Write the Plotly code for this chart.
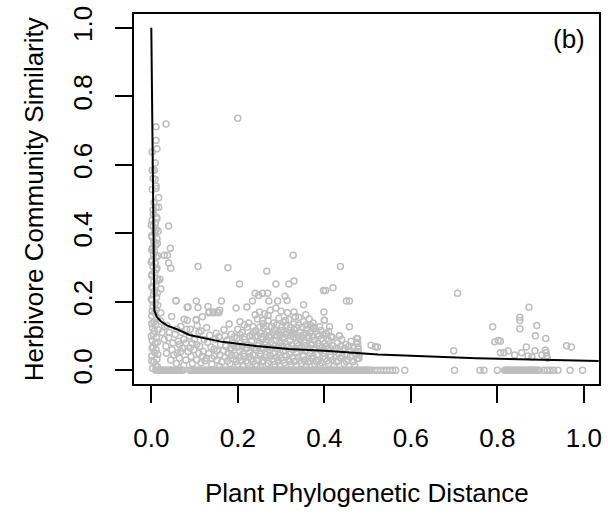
import plotly.graph_objects as go

# ---- data ----
tick_vals = [0.0, 0.2, 0.4, 0.6, 0.8, 1.0]
tick_text = ["0.0", "0.2", "0.4", "0.6", "0.8", "1.0"]

# points lying on similarity = 0
zero_row_x = [0.010,0.017,0.024,0.031,0.038,0.045,0.052,0.059,0.066,0.073,0.089,0.096,0.103,0.110,
              0.117,0.124,0.131,0.138,0.145,0.152,0.159,0.166,0.173,0.180,0.187,0.194,0.201,0.208,
              0.215,0.222,0.229,0.236,0.243,0.250,0.257,0.264,0.271,0.278,0.285,0.292,0.299,0.306,
              0.313,0.320,0.327,0.334,0.341,0.348,0.355,0.362,0.369,0.376,0.383,0.390,0.397,0.404,
              0.411,0.418,0.425,0.432,0.439,0.446,0.453,0.460,0.467,0.474,0.481,0.488,0.495,0.502,
              0.509,0.516,0.523,0.530,0.537,0.544,0.551,0.558,0.565,0.586,0.701,0.760,0.769,0.800,
              0.817,0.823,0.829,0.835,0.841,0.847,0.853,0.859,0.865,0.871,0.877,0.883,0.889,0.897,
              0.908,0.915,0.922,0.930,0.940,0.968,0.997]
zero_row_x2 = [0.0135,0.0205,0.0275,0.0345,0.0415,0.0485,0.0555,0.0625,0.0695,0.0925,0.0995,0.1065,
               0.1135,0.1205,0.1275,0.1345,0.1415,0.1485,0.1555,0.1625,0.1695,0.1765,0.1835,0.1905,
               0.1975,0.2045,0.2115,0.2185,0.2255,0.2325,0.2395,0.2465,0.2535,0.2605,0.2675,0.2745,
               0.2815,0.2885,0.2955,0.3025,0.3095,0.3165,0.3235,0.3305,0.3375,0.3445,0.3515,0.3585,
               0.3655,0.3725,0.3795,0.3865,0.3935,0.4005,0.4075,0.4145,0.4215,0.4285,0.4355,0.4425,
               0.4495,0.4565,0.4635,0.4705,0.4775,0.4845,0.4915,0.4985,0.5055,
               0.820,0.826,0.832,0.838,0.844,0.850,0.856,0.862,0.868,0.874,0.880,0.886,0.893]

# vertical column near distance = 0
column_x = [0.003,0.010,0.006,0.013,0.001,0.008,0.011,0.004,0.009,0.002,0.012,0.005,0.007,
            0.003,0.010,0.006,0.013,0.001,0.008,0.011,0.004,0.009,0.002,0.012,0.005,0.007,
            0.003,0.010,0.006,0.013,0.001,0.008,0.011,0.004,0.009,0.002,0.012,0.005,0.007,
            0.003,0.010,0.006,0.013,0.001,0.008,0.011,0.004,0.009,0.002,0.012,0.005,
            0.004,0.011,0.006,0.017,0.002,0.011,0.011,0.009,0.004,0.002,0.007,0.009,0.002,0.013,0.011,0.011,0.034,
            0.014,0.001,0.015,0.002,0.014,0.000,0.016,0.001,0.013,0.002,0.015,0.000,0.014,0.001,0.016,
            0.002,0.013,0.000,0.015,0.001,0.014,0.002,0.016,0.000,0.013,0.020,0.022,0.017]
column_y = [0.006,0.015,0.024,0.033,0.042,0.051,0.060,0.069,0.078,0.087,0.096,0.105,0.114,
            0.123,0.132,0.141,0.150,0.159,0.168,0.177,0.186,0.195,0.204,0.213,0.222,0.231,
            0.240,0.249,0.258,0.267,0.276,0.285,0.294,0.303,0.312,0.321,0.330,0.339,0.348,
            0.357,0.366,0.375,0.384,0.393,0.402,0.411,0.420,0.429,0.438,0.447,0.456,
            0.468,0.476,0.490,0.504,0.528,0.531,0.538,0.557,0.560,0.584,0.584,0.605,0.637,0.647,0.671,0.711,0.719,
            0.010,0.028,0.046,0.064,0.082,0.100,0.118,0.136,0.154,0.172,0.190,0.208,0.226,0.244,0.262,
            0.280,0.298,0.316,0.334,0.352,0.370,0.388,0.406,0.424,0.442,0.266,0.237,0.476]

# cloud just right of the column
near_pts = [(0.022,0.168),(0.057,0.204),(0.047,0.157),(0.083,0.184),(0.076,0.149),(0.083,0.146),
            (0.104,0.146),(0.068,0.128),(0.031,0.128),(0.025,0.110),(0.040,0.095),(0.055,0.105),
            (0.062,0.085),(0.075,0.090),(0.088,0.100),(0.095,0.078),(0.034,0.070),(0.048,0.060),
            (0.060,0.050),(0.072,0.065),(0.085,0.055),(0.098,0.060),(0.065,0.035),(0.080,0.030),
            (0.092,0.040),(0.105,0.030),(0.110,0.050),(0.100,0.090),(0.070,0.110),(0.030,0.090),
            (0.050,0.080),(0.090,0.120),(0.110,0.110),(0.035,0.050),(0.045,0.030),(0.058,0.020),
            (0.075,0.015),(0.095,0.020),(0.022,0.143),(0.036,0.131),(0.059,0.120),
            (0.112,0.070),(0.122,0.090),(0.135,0.102),(0.118,0.040),(0.140,0.035),(0.105,0.075),
            (0.065,0.075),(0.080,0.080),(0.090,0.065),(0.052,0.045),(0.068,0.055),(0.042,0.110),
            (0.082,0.120),(0.115,0.115),(0.128,0.125)]

# main cloud
cloud_pts = [
    (0.115,0.022),(0.128,0.035),(0.140,0.018),(0.152,0.030),(0.163,0.024),(0.171,0.038),(0.182,0.020),
    (0.190,0.032),(0.200,0.016),(0.208,0.028),(0.215,0.040),(0.223,0.022),(0.231,0.034),(0.240,0.018),
    (0.248,0.030),(0.256,0.025),(0.262,0.038),(0.270,0.020),(0.279,0.032),(0.286,0.017),(0.293,0.028),
    (0.300,0.036),(0.308,0.022),(0.316,0.030),(0.323,0.018),(0.331,0.026),(0.339,0.038),(0.347,0.020),
    (0.355,0.030),(0.362,0.024),(0.370,0.035),(0.378,0.019),(0.386,0.028),(0.394,0.022),(0.402,0.033),
    (0.410,0.020),(0.419,0.030),(0.428,0.024),(0.437,0.036),(0.446,0.020),(0.455,0.030),(0.466,0.025),
    (0.476,0.034),
    (0.120,0.055),(0.133,0.048),(0.145,0.062),(0.158,0.045),(0.167,0.058),(0.178,0.050),(0.186,0.066),
    (0.195,0.044),(0.204,0.056),(0.212,0.048),(0.219,0.064),(0.227,0.052),(0.235,0.045),(0.243,0.060),
    (0.251,0.050),(0.259,0.066),(0.266,0.046),(0.274,0.058),(0.282,0.050),(0.290,0.063),(0.297,0.044),
    (0.305,0.055),(0.312,0.068),(0.320,0.047),(0.328,0.060),(0.335,0.050),(0.343,0.065),(0.351,0.045),
    (0.359,0.057),(0.367,0.049),(0.375,0.063),(0.383,0.046),(0.391,0.058),(0.399,0.050),(0.407,0.062),
    (0.415,0.045),(0.424,0.055),(0.433,0.048),(0.442,0.060),(0.452,0.046),(0.461,0.056),(0.472,0.050),
    (0.478,0.062),
    (0.130,0.082),(0.148,0.090),(0.160,0.075),(0.175,0.088),(0.188,0.078),(0.198,0.094),(0.207,0.080),
    (0.216,0.090),(0.224,0.074),(0.232,0.086),(0.240,0.097),(0.249,0.078),(0.257,0.090),(0.265,0.082),
    (0.273,0.096),(0.281,0.075),(0.289,0.088),(0.296,0.080),(0.304,0.094),(0.313,0.076),(0.321,0.087),
    (0.329,0.097),(0.337,0.079),(0.345,0.090),(0.353,0.083),(0.361,0.095),(0.369,0.076),(0.377,0.088),
    (0.385,0.080),(0.393,0.092),(0.401,0.078),(0.410,0.087),(0.418,0.096),(0.430,0.080),(0.440,0.090),
    (0.450,0.075),(0.462,0.085),(0.475,0.078),
    (0.150,0.108),(0.168,0.118),(0.185,0.105),(0.200,0.120),(0.210,0.110),(0.222,0.126),(0.233,0.104),
    (0.242,0.116),(0.252,0.108),(0.260,0.124),(0.268,0.112),(0.277,0.102),(0.285,0.120),(0.294,0.110),
    (0.302,0.127),(0.310,0.105),(0.318,0.117),(0.327,0.108),(0.336,0.124),(0.344,0.112),(0.352,0.103),
    (0.360,0.119),(0.368,0.110),(0.376,0.126),(0.384,0.106),(0.392,0.116),(0.404,0.107),(0.416,0.098),
    (0.435,0.101),(0.475,0.093),
    (0.180,0.135),(0.205,0.142),(0.225,0.138),(0.245,0.150),(0.258,0.136),(0.270,0.145),(0.283,0.138),
    (0.295,0.152),(0.306,0.140),(0.318,0.148),(0.330,0.135),(0.341,0.155),(0.352,0.142),(0.365,0.150),
    (0.374,0.138),(0.389,0.127),(0.400,0.146),(0.412,0.127),(0.368,0.131),(0.374,0.122),(0.404,0.107),
    (0.410,0.114),(0.416,0.098),(0.407,0.093),(0.458,0.127),(0.435,0.101),(0.475,0.081),
    (0.131,0.186),(0.134,0.170),(0.143,0.170),(0.152,0.170),(0.158,0.175),(0.196,0.182),(0.221,0.185),
    (0.288,0.182),(0.330,0.170),(0.333,0.156),(0.357,0.162),(0.399,0.170),(0.400,0.146),(0.104,0.148),
    (0.106,0.131),(0.118,0.156),(0.085,0.185),(0.108,0.183),(0.133,0.168),(0.144,0.168),(0.156,0.168),
    (0.250,0.170),(0.262,0.165),(0.275,0.175),(0.300,0.172),(0.315,0.168),(0.270,0.160),(0.240,0.162),
    (0.477,0.093),(0.477,0.080),(0.478,0.068),(0.478,0.055),(0.480,0.045),(0.480,0.035),(0.508,0.073),
    (0.518,0.069),(0.523,0.068)]

# denser core of the main cloud
core_pts = [
    (0.124,0.028),(0.146,0.041),(0.158,0.012),(0.176,0.027),(0.186,0.044),(0.196,0.026),(0.204,0.038),
    (0.212,0.014),(0.219,0.027),(0.227,0.040),(0.235,0.026),(0.244,0.012),(0.252,0.041),(0.259,0.028),
    (0.266,0.013),(0.275,0.043),(0.283,0.026),(0.290,0.038),(0.297,0.013),(0.304,0.029),(0.312,0.042),
    (0.320,0.026),(0.327,0.038),(0.335,0.013),(0.343,0.028),(0.351,0.040),(0.358,0.014),(0.366,0.027),
    (0.374,0.042),(0.382,0.025),(0.390,0.014),(0.398,0.040),(0.406,0.027),(0.414,0.038),(0.423,0.014),
    (0.432,0.028),(0.441,0.041),(0.451,0.026),(0.460,0.040),(0.470,0.015),
    (0.138,0.068),(0.152,0.056),(0.172,0.070),(0.182,0.062),(0.191,0.072),(0.200,0.067),(0.210,0.072),
    (0.222,0.064),(0.230,0.071),(0.238,0.066),(0.246,0.072),(0.254,0.064),(0.262,0.075),(0.270,0.068),
    (0.278,0.066),(0.286,0.072),(0.294,0.067),(0.302,0.072),(0.310,0.058),(0.317,0.068),(0.325,0.074),
    (0.333,0.064),(0.340,0.072),(0.348,0.066),(0.356,0.072),(0.364,0.066),(0.372,0.074),(0.380,0.064),
    (0.388,0.070),(0.396,0.068),(0.404,0.070),(0.412,0.066),(0.420,0.072),(0.428,0.064),(0.438,0.070),
    (0.447,0.064),(0.457,0.070),(0.467,0.066),
    (0.156,0.098),(0.170,0.100),(0.192,0.098),(0.205,0.104),(0.215,0.098),(0.228,0.100),(0.236,0.110),
    (0.246,0.100),(0.255,0.098),(0.263,0.104),(0.272,0.100),(0.281,0.110),(0.290,0.100),(0.298,0.104),
    (0.306,0.098),(0.314,0.108),(0.323,0.100),(0.331,0.106),(0.340,0.100),(0.348,0.098),(0.356,0.108),
    (0.364,0.100),(0.372,0.098),(0.380,0.115),(0.388,0.100),(0.396,0.104),
    (0.215,0.132),(0.235,0.128),(0.250,0.126),(0.265,0.130),(0.278,0.128),(0.290,0.132),(0.300,0.116),
    (0.312,0.130),(0.322,0.126),(0.340,0.132),(0.348,0.126),(0.358,0.132),(0.330,0.118),(0.258,0.145),
    (0.310,0.145)]

# isolated points above the cloud
upper_pts = [(0.200,0.736),(0.108,0.303),(0.177,0.299),(0.267,0.289),(0.328,0.336),(0.437,0.303),
             (0.204,0.252),(0.288,0.252),(0.318,0.252),(0.330,0.261),(0.420,0.241),(0.398,0.233),
             (0.403,0.233),(0.240,0.225),(0.248,0.218),(0.257,0.225),(0.269,0.225),(0.309,0.216),
             (0.314,0.204),(0.057,0.202),(0.104,0.202),(0.162,0.202),(0.234,0.202),(0.272,0.202),
             (0.292,0.202),(0.451,0.202),(0.458,0.202),(0.352,0.191),(0.040,0.421),(0.044,0.356),
             (0.030,0.336),(0.037,0.336),(0.040,0.313),(0.045,0.298)]

# distant pairs (distance 0.7 - 1.0)
far_pts = [(0.708,0.225),(0.873,0.184),(0.852,0.155),(0.852,0.145),(0.852,0.121),(0.789,0.127),
           (0.891,0.131),(0.888,0.101),(0.912,0.093),(0.794,0.083),(0.802,0.087),(0.807,0.085),
           (0.867,0.068),(0.960,0.072),(0.971,0.068),(0.699,0.057),(0.807,0.051),(0.815,0.051),
           (0.825,0.056),(0.840,0.045),(0.856,0.051),(0.871,0.042),(0.880,0.039),(0.887,0.057),
           (0.903,0.045),(0.911,0.059),(0.913,0.051),(0.914,0.042),(0.916,0.035)]

# fitted curve
curve_x = [0.0, 0.002, 0.004, 0.006, 0.007, 0.013, 0.022, 0.036, 0.059, 0.088, 0.112, 0.164,
           0.242, 0.318, 0.410, 0.524, 0.752, 1.034]
curve_y = [1.0, 0.75, 0.50, 0.30, 0.175, 0.155, 0.143, 0.131, 0.120, 0.103, 0.097, 0.083,
           0.071, 0.062, 0.056, 0.046, 0.035, 0.027]

# ---- assemble ----
pts_x = list(zero_row_x) + list(zero_row_x2) + list(column_x)
pts_y = [0.0] * (len(zero_row_x) + len(zero_row_x2)) + list(column_y)
for grp in (near_pts, cloud_pts, core_pts, upper_pts, far_pts):
    pts_x += [p[0] for p in grp]
    pts_y += [p[1] for p in grp]

FONT = "Liberation Sans, Arial, Helvetica, sans-serif"

fig = go.Figure()
fig.add_trace(go.Scatter(
    x=pts_x, y=pts_y, mode="markers",
    marker=dict(symbol="circle-open", size=6, color="#bebebe", line=dict(width=1.5, color="#bebebe")),
    hoverinfo="skip", showlegend=False))
fig.add_trace(go.Scatter(
    x=curve_x, y=curve_y, mode="lines",
    line=dict(color="black", width=2), showlegend=False, hoverinfo="skip"))

axis_common = dict(
    showgrid=False, zeroline=False, showline=True, mirror=True,
    linecolor="black", linewidth=1.5,
    ticks="outside", ticklen=17, tickwidth=1.5, tickcolor="black",
    tickvals=tick_vals, ticktext=tick_text,
    tickfont=dict(family=FONT, size=26, color="black"),
)

fig.update_layout(
    width=608, height=519, autosize=False,
    margin=dict(l=134, r=6, t=10, b=135, pad=0),
    paper_bgcolor="white", plot_bgcolor="white",
    font=dict(family=FONT, color="black"),
    xaxis=dict(range=[-0.04, 1.035], ticklabelstandoff=13, **axis_common),
    yaxis=dict(range=[-0.04, 1.04], tickangle=-90, ticklabelstandoff=13, **axis_common),
    annotations=[
        dict(text="Plant Phylogenetic Distance", xref="paper", yref="paper",
             x=0.5, y=-0.295, xanchor="center", yanchor="middle", showarrow=False,
             font=dict(family=FONT, size=26, color="black")),
        dict(text="Herbivore Community Similarity", xref="paper", yref="paper",
             x=-0.2144, y=0.5, xanchor="center", yanchor="middle", textangle=-90, showarrow=False,
             font=dict(family=FONT, size=26, color="black")),
        dict(text="(b)", xref="paper", yref="paper",
             x=0.935, y=0.933, xanchor="center", yanchor="middle", showarrow=False,
             font=dict(family=FONT, size=26, color="black")),
    ],
)

fig.write_html("out.html")
